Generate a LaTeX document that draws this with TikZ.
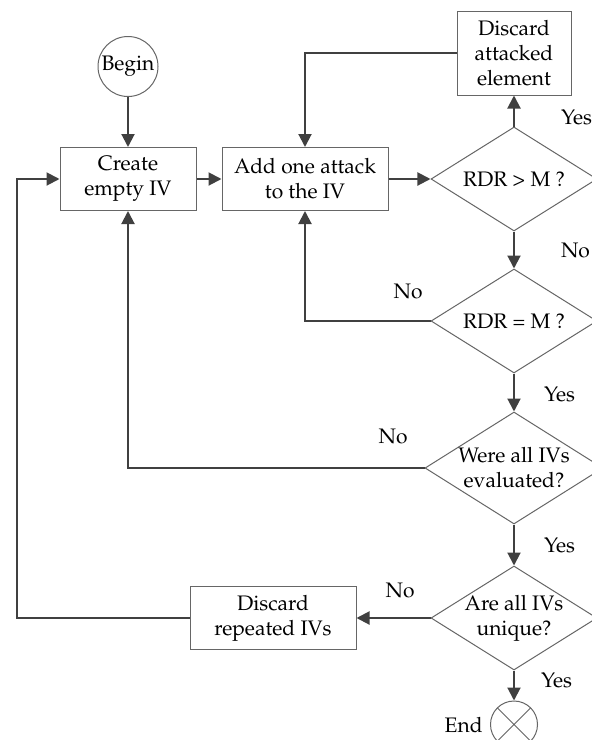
\documentclass[tikz,border=0pt]{standalone}
\usepackage[T1]{fontenc}
\usepackage{mathpazo}
\usepackage{tikz}
\usetikzlibrary{shapes.geometric,arrows.meta,positioning,calc}
\tikzset{
  dn/.style={-{Triangle[length=6.5pt,width=6.5pt]}, draw=black!75, line width=1pt},
  ln/.style={draw=black!75, line width=1pt}
}

\begin{document}
\begin{tikzpicture}[
  x=0.5pt, y=-0.5pt,
  font=\fontsize{10.5}{12.5}\selectfont,
  proc/.style={rectangle, draw=black!60, line width=0.5pt, fill=white, align=center,
               inner sep=0pt, minimum height=31.5pt},
  dec/.style={diamond, draw=black!60, line width=0.5pt, fill=white,
              inner sep=0pt, minimum width=83pt, minimum height=52pt},
  dtxt/.style={align=center, inner sep=0pt},
  term/.style={circle, draw=black!60, line width=0.5pt, fill=white, inner sep=0pt},
  lbl/.style={inner sep=0pt}
]
\useasboundingbox (0,0) rectangle (592,740);
% ---- main row ----
\node[proc, minimum width=68pt] (create) at (128,179) {Create\\empty IV};
\node[term, minimum size=30pt, above=25pt of create] (begin) {Begin};
\node[proc, minimum width=83pt, right=12.5pt of create] (add) {Add one attack\\to the IV};
\node[dec, right=21pt of add, label={[dtxt]center:{RDR > M ?}}] (d1) {};
\node[proc, minimum width=57pt, minimum height=42pt, above=15.5pt of d1] (drop) {Discard\\attacked\\element};
% ---- decision column ----
\node[dec, below=18.5pt of d1, label={[dtxt]center:{RDR = M ?}}] (d2) {};
\node[dec, minimum width=89pt, minimum height=56pt, below=19pt of d2,
      label={[dtxt]center:{Were all IVs\\evaluated?}}] (d3) {};
\node[dec, below=20.5pt of d3, label={[dtxt]center:{Are all IVs\\unique?}}] (d4) {};
\node[term, minimum size=23.5pt, below=15pt of d4,
      path picture={\draw[black!60, line width=0.5pt]
        (path picture bounding box.north west) -- (path picture bounding box.south east)
        (path picture bounding box.north east) -- (path picture bounding box.south west);},
      label={[lbl, label distance=3.5pt]left:End}] (end) {};
\node[proc, minimum width=83pt, left=37pt of d4] (rep) {Discard\\repeated IVs};
\coordinate (back) at (17,179);
% ---- arrows ----
\draw[dn] (begin) -- (create);
\draw[dn] (create) -- (add);
\draw[dn] (add) -- (d1);
\draw[dn] (d1.north) -- node[lbl, at start, anchor=west, xshift=23pt, yshift=4.5pt] {Yes} (drop.south);
\draw[dn] (drop.west) -| (add.north);
\draw[dn] (d1.south) -- node[lbl, midway, anchor=west, xshift=23pt] {No} (d2.north);
\draw[dn] (d2.west) -| node[lbl, at start, anchor=east, xshift=-3.5pt, yshift=15pt] {No} (add.south);
\draw[dn] (d2.south) -- node[lbl, midway, anchor=west, xshift=14.5pt, yshift=-1pt] {Yes} (d3.north);
\draw[dn] (d3.west) -| node[lbl, at start, anchor=east, xshift=-8pt, yshift=16pt] {No} (create.south);
\draw[dn] (d3.south) -- node[lbl, midway, anchor=west, xshift=14.5pt] {Yes} (d4.north);
\draw[dn] (d4.west) -- node[lbl, at start, anchor=east, xshift=-7.5pt, yshift=14pt] {No} (rep.east);
\draw[dn] (d4.south) -- node[lbl, pos=0.32, anchor=west, xshift=13pt] {Yes} (end.north);
\draw[dn] (rep.west) -| (back) -- (create.west);
\end{tikzpicture}
\end{document}
